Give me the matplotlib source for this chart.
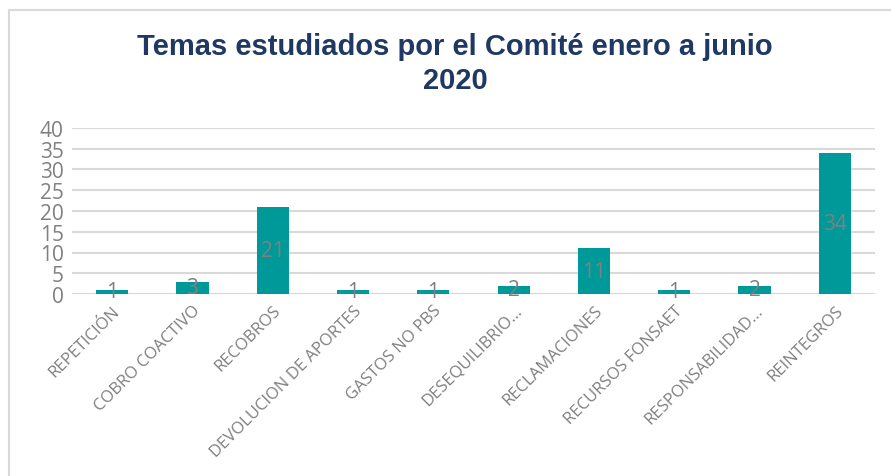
import matplotlib
matplotlib.use("Agg")
from matplotlib import pyplot as plt
from matplotlib.patches import Rectangle

categories = ["REPETICIÓN", "COBRO COACTIVO", "RECOBROS", "DEVOLUCION DE APORTES",
              "GASTOS NO PBS", "DESEQUILIBRIO...", "RECLAMACIONES", "RECURSOS FONSAET",
              "RESPONSABILIDAD...", "REINTEGROS"]
values = [1, 3, 21, 1, 1, 2, 11, 1, 2, 34]
y_ticks = [0, 5, 10, 15, 20, 25, 30, 35, 40]

W, H = 891, 477
fig = plt.figure(figsize=(W / 100, H / 100), dpi=100)

# outer chart border (left and top visible)
fig.patches.append(Rectangle((8.5 / W, -0.1), 2, (H - 11) / H + 0.1, transform=fig.transFigure,
                             fill=False, edgecolor="#d9d9d9", linewidth=1.5))

ax = fig.add_axes([72 / W, (H - 295) / H, (875 - 72) / W, (295 - 129) / H])
x = list(range(len(categories)))
ax.bar(x, values, width=0.4, color="#009999", zorder=3)

ax.set_xlim(-0.5, len(categories) - 0.5)
ax.set_ylim(0, 40)
ax.set_yticks(y_ticks)
ax.set_yticklabels([str(t) for t in y_ticks], fontsize=15, color="#808080", family="Open Sans")
ax.tick_params(axis="y", length=0, pad=6)
ax.tick_params(axis="x", length=0, pad=6)
ax.set_xticks(x)
ax.set_xticklabels(categories, rotation=45, ha="right", rotation_mode="anchor",
                   fontsize=12, color="#7f7f7f", family="Open Sans")
ax.yaxis.grid(True, color="#d9d9d9", linewidth=1.5, zorder=0)
for s in ax.spines.values():
    s.set_visible(False)
ax.axhline(0, color="#d9d9d9", linewidth=1.5, zorder=2)

for xi, v in zip(x, values):
    ax.text(xi, v / 2, str(v), ha="center", va="center", fontsize=15,
            color="#808080", family="Open Sans", zorder=4)

fig.text(455 / W, (H - 64) / H, "Temas estudiados por el Comité enero a junio\n2020",
         ha="center", va="center", fontsize=21, fontweight="bold",
         color="#1f3864", family="Liberation Sans", linespacing=1.3)

fig.savefig("out.png", dpi=100)
